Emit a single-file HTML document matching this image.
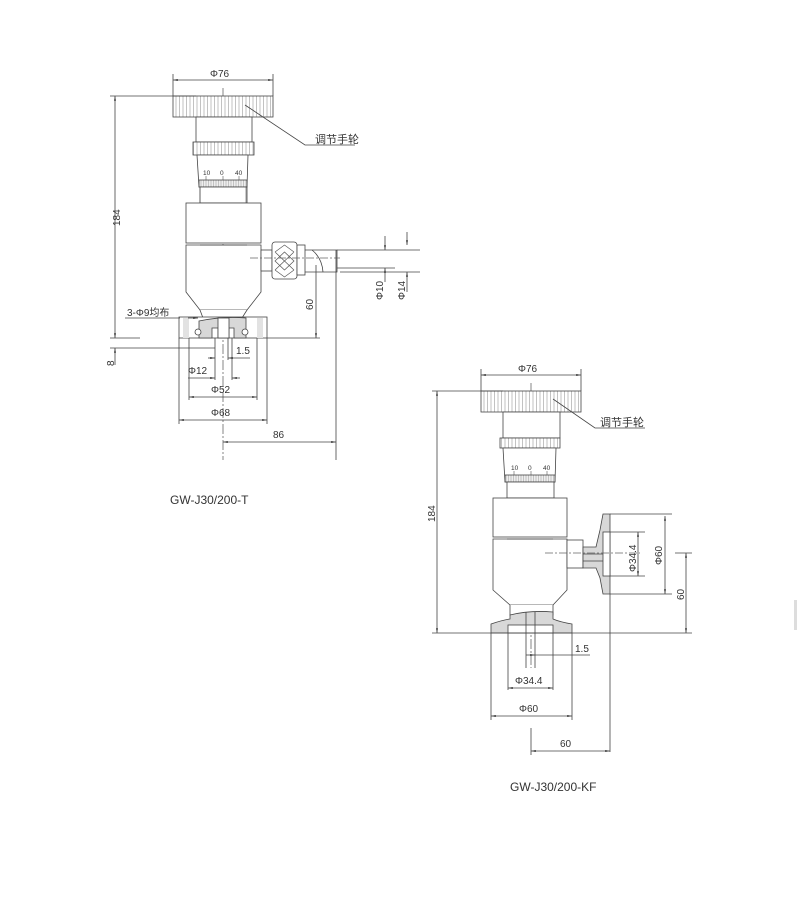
<!DOCTYPE html>
<html><head><meta charset="utf-8"><style>
html,body{margin:0;padding:0;background:#fff;}
svg{display:block;}
text{font-family:"Liberation Sans","Noto Sans CJK SC",sans-serif;fill:#333;}
</style></head><body>
<svg width="800" height="913" viewBox="0 0 800 913" xmlns="http://www.w3.org/2000/svg">
<defs>
<pattern id="kn" width="3.5" height="10" patternUnits="userSpaceOnUse"><rect width="3.5" height="10" fill="#fff"/><line x1="1" y1="0" x2="1" y2="10" stroke="#999" stroke-width="0.6"/></pattern>
<pattern id="kn2" width="2.5" height="10" patternUnits="userSpaceOnUse"><rect width="2.5" height="10" fill="#eee"/><line x1="1" y1="0" x2="1" y2="10" stroke="#999" stroke-width="0.5"/></pattern>
<marker id="a" viewBox="0 0 10 10" refX="10" refY="5" markerWidth="6" markerHeight="6" orient="auto-start-reverse"><path d="M0,3L10,5L0,7z" fill="#333"/></marker>
</defs>
<g stroke="#444" stroke-width="0.8" fill="none">
<!-- ===== Drawing 1 ===== -->
<line x1="223" y1="88" x2="223" y2="460" stroke-dasharray="10,2,2,2" stroke="#666"/>
<rect x="173" y="96" width="100" height="21" fill="url(#kn)"/>
<rect x="196" y="117" width="56" height="25" fill="#fff"/>
<rect x="193" y="142" width="61" height="13" fill="url(#kn)"/>
<path d="M197,155 L248,155 L247,187 L199,187 Z" fill="#fff"/>
<rect x="199" y="180" width="48" height="7" fill="url(#kn2)"/>
<rect x="200" y="187" width="47" height="16" fill="#fff"/>
<rect x="186" y="203" width="75" height="40" fill="#fff"/>
<path d="M186,245 L261,245 L261,292 L247,310 L200,310 L186,292 Z" fill="#fff"/>
<line x1="200" y1="245" x2="247" y2="245"/>
<path d="M200,310 L203,318 L242,318 L247,310" fill="#fff"/>
<rect x="179" y="317" width="88" height="21" fill="#fff"/>
<path d="M199,321 Q223,316 246,318 L246,338 L234,338 L234,328 L229,328 L229,338 L218,338 L218,328 L212,328 L212,338 L199,338 Z" fill="#d8d8d8"/>
<rect x="183" y="318" width="6" height="20" fill="#e2e2e2" stroke="none"/>
<rect x="257" y="318" width="6" height="20" fill="#e2e2e2" stroke="none"/>
<rect x="218" y="318" width="11" height="20" fill="#fff"/>
<circle cx="198" cy="332" r="3" fill="#fff"/>
<circle cx="245" cy="332" r="3" fill="#fff"/>
<rect x="261" y="250" width="11" height="21" fill="#fff"/>
<rect x="272" y="242" width="25" height="37" rx="3" fill="#fff"/>
<path d="M275,252 L294,270 M294,252 L275,270 M275,252 L284.5,245 L294,252 M275,270 L284.5,277 L294,270 M275,261 L284.5,252 L294,261 L284.5,270 Z" stroke="#555" stroke-width="0.7"/>
<rect x="297" y="245" width="8" height="30" fill="#fff"/>
<path d="M305,250 L337,250 L337,272 L323,272 Q322,258 312,250 M305,272 L323,272" fill="#fff"/>
<line x1="337" y1="250" x2="420" y2="250"/><line x1="337" y1="268" x2="395" y2="268"/>
<line x1="340" y1="272" x2="420" y2="272"/>
<line x1="250" y1="258" x2="340" y2="258" stroke-dasharray="8,2,2,2" stroke="#666"/>
<line x1="336" y1="250" x2="336" y2="460"/>
<line x1="173" y1="80" x2="273" y2="80" marker-start="url(#a)" marker-end="url(#a)"/>
<line x1="173" y1="74" x2="173" y2="96"/><line x1="273" y1="74" x2="273" y2="96"/>
<line x1="110" y1="96" x2="196" y2="96"/>
<line x1="115" y1="96" x2="115" y2="338" marker-start="url(#a)" marker-end="url(#a)"/>
<line x1="110" y1="338" x2="140" y2="338"/><line x1="267" y1="338" x2="320" y2="338"/>
<line x1="110" y1="348" x2="215" y2="348"/>
<line x1="115" y1="348" x2="115" y2="365" marker-start="url(#a)"/>
<line x1="316" y1="265" x2="316" y2="338" marker-end="url(#a)"/>
<line x1="385" y1="236" x2="385" y2="250" marker-end="url(#a)"/><line x1="385" y1="268" x2="385" y2="282" marker-start="url(#a)"/>
<line x1="407" y1="232" x2="407" y2="245" marker-end="url(#a)"/><line x1="407" y1="272" x2="407" y2="292" marker-start="url(#a)"/>
<line x1="125" y1="318" x2="180" y2="318"/>
<line x1="188" y1="318" x2="198" y2="318" marker-end="url(#a)"/>
<line x1="215" y1="338" x2="215" y2="380"/><line x1="228" y1="338" x2="228" y2="360"/><line x1="232" y1="338" x2="232" y2="380"/>
<line x1="208" y1="358" x2="215" y2="358" marker-end="url(#a)"/><line x1="228" y1="358" x2="250" y2="358" marker-start="url(#a)"/>
<line x1="188" y1="378" x2="215" y2="378" marker-end="url(#a)"/><line x1="232" y1="378" x2="240" y2="378" marker-start="url(#a)"/>
<line x1="189" y1="338" x2="189" y2="400"/><line x1="257" y1="338" x2="257" y2="400"/>
<line x1="189" y1="397" x2="257" y2="397" marker-start="url(#a)" marker-end="url(#a)"/>
<line x1="179" y1="338" x2="179" y2="424"/><line x1="267" y1="338" x2="267" y2="424"/>
<line x1="179" y1="420" x2="267" y2="420" marker-start="url(#a)" marker-end="url(#a)"/>
<line x1="223" y1="442" x2="336" y2="442" marker-start="url(#a)" marker-end="url(#a)"/>
<polyline points="245,105 305,145 355,145"/>

<!-- ===== Drawing 2 ===== -->
<line x1="531" y1="383" x2="531" y2="668" stroke-dasharray="10,2,2,2" stroke="#666"/>
<rect x="481" y="391" width="100" height="21" fill="url(#kn)"/>
<rect x="503" y="412" width="57" height="26" fill="#fff"/>
<rect x="500" y="438" width="60" height="10" fill="url(#kn)"/>
<path d="M503,448 L556,448 L555,482 L505,482 Z" fill="#fff"/>
<rect x="505" y="475" width="50" height="7" fill="url(#kn2)"/>
<rect x="507" y="482" width="47" height="16" fill="#fff"/>
<rect x="493" y="498" width="74" height="39" fill="#fff"/>
<path d="M493,539 L567,539 L567,590 L553,605 L510,605 L493,590 Z" fill="#fff"/>
<line x1="507" y1="539" x2="553" y2="539"/>
<path d="M510,605 L510,615 L553,615 L553,605" fill="#fff"/>
<path d="M510,615 Q530,610 553,612 L553,619 Q560,622 572,624 L572,633 L491,633 L491,624 Q503,620 510,619 Z" fill="#d8d8d8"/>
<rect x="508" y="625" width="45" height="8" fill="#fff"/>
<line x1="508" y1="633" x2="508" y2="690"/><line x1="553" y1="633" x2="553" y2="690"/>
<line x1="526" y1="612" x2="526" y2="668"/><line x1="535" y1="612" x2="535" y2="668"/>
<rect x="567" y="540" width="16" height="28" fill="#fff"/>
<path d="M583,547 L596,547 L600,530 L603,514 L610,514 L610,594 L603,594 L600,578 L596,568 L583,568 Z" fill="#d8d8d8"/>
<rect x="603" y="532" width="7" height="44" fill="#fff"/>
<line x1="583" y1="554" x2="603" y2="554"/><line x1="583" y1="561" x2="603" y2="561"/>
<line x1="545" y1="553" x2="640" y2="553" stroke-dasharray="8,2,2,2" stroke="#666"/>
<line x1="610" y1="514" x2="672" y2="514"/><line x1="610" y1="594" x2="672" y2="594"/>
<line x1="610" y1="532" x2="645" y2="532"/><line x1="610" y1="576" x2="645" y2="576"/>
<line x1="610" y1="594" x2="610" y2="752"/>
<line x1="481" y1="375" x2="581" y2="375" marker-start="url(#a)" marker-end="url(#a)"/>
<line x1="481" y1="369" x2="481" y2="391"/><line x1="581" y1="369" x2="581" y2="391"/>
<line x1="432" y1="391" x2="503" y2="391"/>
<line x1="437" y1="391" x2="437" y2="633" marker-start="url(#a)" marker-end="url(#a)"/>
<line x1="432" y1="633" x2="692" y2="633"/>
<line x1="638" y1="532" x2="638" y2="576" marker-start="url(#a)" marker-end="url(#a)"/>
<line x1="665" y1="516" x2="665" y2="594" marker-start="url(#a)" marker-end="url(#a)"/>
<line x1="675" y1="553" x2="692" y2="553"/>
<line x1="686" y1="553" x2="686" y2="633" marker-start="url(#a)" marker-end="url(#a)"/>
<line x1="526" y1="655" x2="535" y2="655" marker-end="url(#a)"/><line x1="535" y1="655" x2="590" y2="655"/>
<line x1="508" y1="688" x2="553" y2="688" marker-start="url(#a)" marker-end="url(#a)"/>
<line x1="491" y1="633" x2="491" y2="720"/><line x1="572" y1="633" x2="572" y2="720"/>
<line x1="491" y1="716" x2="572" y2="716" marker-start="url(#a)" marker-end="url(#a)"/>
<line x1="531" y1="728" x2="531" y2="755"/>
<line x1="531" y1="751" x2="610" y2="751" marker-start="url(#a)" marker-end="url(#a)"/>
<polyline points="553,399 595,428 645,428"/>
</g>
<g stroke="#555" stroke-width="0.6">
<line x1="206" y1="176" x2="206" y2="180"/><line x1="223" y1="176" x2="223" y2="180"/><line x1="239" y1="176" x2="239" y2="180"/>
<line x1="514" y1="471" x2="514" y2="475"/><line x1="531" y1="471" x2="531" y2="475"/><line x1="547" y1="471" x2="547" y2="475"/>
<line x1="200" y1="187" x2="200" y2="203"/><line x1="246" y1="187" x2="246" y2="203"/>
</g>
<rect x="794" y="600" width="3" height="30" fill="#ddd"/>
<g font-size="6.5">
<text x="203" y="175">10</text><text x="220" y="175">0</text><text x="235" y="175">40</text>
<text x="511" y="470">10</text><text x="528" y="470">0</text><text x="543" y="470">40</text>
</g>
<g font-size="10">
<text x="210" y="77">Φ76</text>
<text x="518" y="372">Φ76</text>
<text x="315" y="143" font-size="11">调节手轮</text>
<text x="600" y="426" font-size="11">调节手轮</text>
<text x="127" y="316">3-Φ9均布</text>
<text x="236" y="354">1.5</text>
<text x="188" y="374">Φ12</text>
<text x="211" y="393">Φ52</text>
<text x="211" y="416">Φ68</text>
<text x="273" y="438">86</text>
<text x="575" y="652">1.5</text>
<text x="515" y="684">Φ34.4</text>
<text x="519" y="712">Φ60</text>
<text x="560" y="747">60</text>
<text transform="translate(120,226) rotate(-90)">184</text>
<text transform="translate(114,366) rotate(-90)">8</text>
<text transform="translate(313,310) rotate(-90)">60</text>
<text transform="translate(383,300) rotate(-90)">Φ10</text>
<text transform="translate(405,300) rotate(-90)">Φ14</text>
<text transform="translate(435,522) rotate(-90)">184</text>
<text transform="translate(636,572) rotate(-90)">Φ34.4</text>
<text transform="translate(662,565) rotate(-90)">Φ60</text>
<text transform="translate(684,600) rotate(-90)">60</text>
</g>
<text x="170" y="504" font-size="12">GW-J30/200-T</text>
<text x="510" y="791" font-size="12">GW-J30/200-KF</text>
</svg>
</body></html>
